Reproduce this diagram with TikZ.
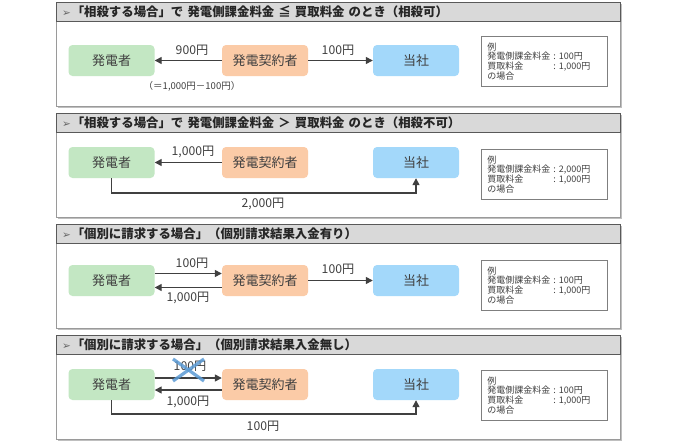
\documentclass[tikz,border=0pt]{standalone}
\usepackage{fontspec}
\setmainfont{Noto Sans CJK JP}
\newfontfamily\symfont{DejaVu Sans}
\usetikzlibrary{arrows.meta,shadows}
\definecolor{txt}{HTML}{404040}
\definecolor{greenc}{HTML}{C3E7C3}
\definecolor{orangec}{HTML}{FBCBA7}
\definecolor{bluec}{HTML}{A3D8FA}
\definecolor{hdrfill}{HTML}{D9D9D9}
\definecolor{hdrline}{HTML}{595959}
\definecolor{frameline}{HTML}{9A9A9A}
\definecolor{exline}{HTML}{7F7F7F}
\definecolor{crossc}{HTML}{5B9BD5}
\tikzset{
  frame/.style={draw=frameline, fill=white, line width=0.8pt, minimum width=564pt, minimum height=104pt, anchor=north west, inner sep=0pt,
    drop shadow={shadow xshift=1.5pt, shadow yshift=-1.5pt, fill=black!25, opacity=1}},
  hdr/.style={draw=hdrline, fill=hdrfill, line width=1pt, minimum width=564pt, minimum height=19pt, text width=553pt, inner xsep=5.5pt, inner ysep=0pt,
    align=left, anchor=north west, font=\fontsize{12.4}{12.4}\selectfont\bfseries, text=black!85},
  party/.style={rounded corners=4pt, minimum width=86pt, minimum height=31pt, font=\fontsize{13}{13}\selectfont, text=txt, inner sep=0pt},
  gen/.style={party, fill=greenc},
  con/.style={party, fill=orangec},
  co/.style={party, fill=bluec},
  flow/.style={draw=txt, line width=1.4pt, -{Triangle[length=7pt,width=7pt]}},
  amt/.style={font=\fontsize{12.2}{12.2}\selectfont, text=txt, inner sep=0pt},
  note/.style={font=\fontsize{9.5}{9.5}\selectfont, text=txt, inner sep=0pt},
  exbox/.style={draw=exline, fill=white, line width=0.8pt, anchor=north west, minimum width=126pt, minimum height=50pt,
    text width=114pt, inner xsep=6pt, inner ysep=0pt, align=left, font=\fontsize{9}{9.6}\selectfont, text=txt},
  cross/.style={draw=crossc, line width=3.2pt, opacity=0.85},
}
\newcommand{\exrow}[2]{\makebox[66pt][l]{#1}:\ #2}
\newcommand{\hbullet}{{\symfont\fontsize{10.5}{10.5}\selectfont\color{black!60}➢}\hspace{1pt}}
\begin{document}
\begin{tikzpicture}[x=1pt,y=-1pt]
\useasboundingbox (0,0) rectangle (677,442);

% ---------- Section 1 ----------
\node[frame] (f1) at (56,2) {};
\node[hdr] (h1) at (56,2) {\hbullet「相殺する場合」で 発電側課金料金 ≦ 買取料金 のとき（相殺可）};
\node[gen] (g1) at (111.5,60.5) {発電者};
\node[con] (c1) at (265,60.5) {発電契約者};
\node[co] (t1) at (416,60.5) {当社};
\node[exbox] (e1) at (481,36) {例\\\exrow{発電側課金料金}{100円}\\\exrow{買取料金}{1,000円}\\の場合};
\draw[flow] (c1) -- (g1);
\draw[flow] (c1) -- (t1);
\node[amt] (l1a) at (192,50) {900円};
\node[amt] (l1b) at (338,50) {100円};
\node[note] (l1c) at (192,86) {（＝1,000円－100円）};

% ---------- Section 2 ----------
\node[frame] (f2) at (56,113) {};
\node[hdr] (h2) at (56,113) {\hbullet「相殺する場合」で 発電側課金料金 ＞ 買取料金 のとき（相殺不可）};
\node[gen] (g2) at (111.5,162.5) {発電者};
\node[con] (c2) at (265,162.5) {発電契約者};
\node[co] (t2) at (416,162.5) {当社};
\node[exbox] (e2) at (481,149) {例\\\exrow{発電側課金料金}{2,000円}\\\exrow{買取料金}{1,000円}\\の場合};
\draw[flow] (c2) -- (g2);
\coordinate (b2) at (416,193);
\draw[flow] (g2.south) |- (b2) -- (t2.south);
\node[amt] (l2a) at (193,152) {1,000円};
\node[amt] (l2b) at (263,204) {2,000円};

% ---------- Section 3 ----------
\node[frame] (f3) at (56,224) {};
\node[hdr] (h3) at (56,224) {\hbullet「個別に請求する場合」（個別請求結果入金有り）};
\node[gen] (g3) at (111.5,280.5) {発電者};
\node[con] (c3) at (265,280.5) {発電契約者};
\node[co] (t3) at (416,280.5) {当社};
\node[exbox] (e3) at (481,260) {例\\\exrow{発電側課金料金}{100円}\\\exrow{買取料金}{1,000円}\\の場合};
\draw[flow] ([yshift=7pt]g3.east) -- ([yshift=7pt]c3.west);
\draw[flow] ([yshift=-7pt]c3.west) -- ([yshift=-7pt]g3.east);
\draw[flow] (c3) -- (t3);
\node[amt] (l3a) at (192,263) {100円};
\node[amt] (l3b) at (188,298) {1,000円};
\node[amt] (l3c) at (338,269) {100円};

% ---------- Section 4 ----------
\node[frame] (f4) at (56,335) {};
\node[hdr] (h4) at (56,335) {\hbullet「個別に請求する場合」（個別請求結果入金無し）};
\node[gen] (g4) at (111.5,384.5) {発電者};
\node[con] (c4) at (265,384.5) {発電契約者};
\node[co] (t4) at (416,384.5) {当社};
\node[exbox] (e4) at (481,370) {例\\\exrow{発電側課金料金}{100円}\\\exrow{買取料金}{1,000円}\\の場合};
\draw[flow] ([yshift=6.5pt]g4.east) -- ([yshift=6.5pt]c4.west);
\draw[flow] ([yshift=-5.5pt]c4.west) -- ([yshift=-5.5pt]g4.east);
\coordinate (b4) at (416,414);
\draw[flow] (g4.south) |- (b4) -- (t4.south);
\node[amt] (l4a) at (190,366) {100円};
\node[amt] (l4b) at (188,402) {1,000円};
\node[amt] (l4c) at (263,426) {100円};
\coordinate (xc) at (189,370);
\draw[cross] ([shift={(-16,-11)}]xc) -- ([shift={(15,11)}]xc);
\draw[cross] ([shift={(-16,11)}]xc) -- ([shift={(15,-11)}]xc);
\end{tikzpicture}
\end{document}
